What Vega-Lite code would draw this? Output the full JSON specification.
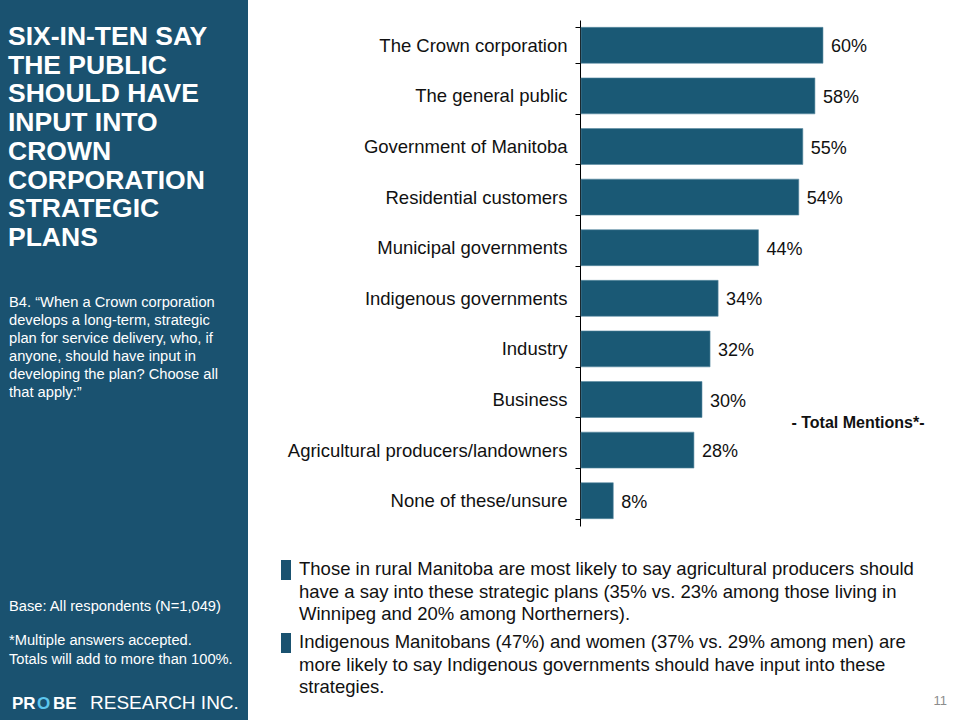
{
  "$schema": "https://vega.github.io/schema/vega-lite/v6.json",
  "width": 960,
  "height": 720,
  "autosize": {"type": "none"},
  "padding": 0,
  "background": "#ffffff",
  "config": {"view": {"stroke": null}, "font": "Liberation Sans"},
  "datasets": {
    "bars": [
      {"label": "The Crown corporation", "share": 0.60},
      {"label": "The general public", "share": 0.58},
      {"label": "Government of Manitoba", "share": 0.55},
      {"label": "Residential customers", "share": 0.54},
      {"label": "Municipal governments", "share": 0.44},
      {"label": "Indigenous governments", "share": 0.34},
      {"label": "Industry", "share": 0.32},
      {"label": "Business", "share": 0.30},
      {"label": "Agricultural producers/landowners", "share": 0.28},
      {"label": "None of these/unsure", "share": 0.08}
    ],
    "one": [{"item": "slide"}]
  },
  "layer": [
    {
      "data": {"name": "one"},
      "mark": {"type": "rect", "color": "#1a5270", "x": 0, "x2": 248, "y": 0, "y2": 720},
      "encoding": {}
    },
    {
      "data": {"name": "one"},
      "mark": {"type": "text", "x": 8, "y": 45, "align": "left", "baseline": "alphabetic", "font": "Liberation Sans", "fontWeight": "bold", "fontSize": 26.5, "lineHeight": 28.7, "color": "#ffffff",
        "text": ["SIX-IN-TEN SAY", "THE PUBLIC", "SHOULD HAVE", "INPUT INTO", "CROWN", "CORPORATION", "STRATEGIC", "PLANS"]},
      "encoding": {}
    },
    {
      "data": {"name": "one"},
      "mark": {"type": "text", "x": 9, "y": 307, "align": "left", "baseline": "alphabetic", "fontSize": 14.7, "lineHeight": 18, "color": "#ffffff",
        "text": ["B4. “When a Crown corporation", "develops a long-term, strategic", "plan for service delivery, who, if", "anyone, should have input in", "developing the plan?  Choose all", "that apply:”"]},
      "encoding": {}
    },
    {
      "data": {"name": "one"},
      "mark": {"type": "text", "x": 9, "y": 611, "align": "left", "baseline": "alphabetic", "fontSize": 14.7, "color": "#ffffff", "text": "Base: All respondents (N=1,049)"},
      "encoding": {}
    },
    {
      "data": {"name": "one"},
      "mark": {"type": "text", "x": 9, "y": 645, "align": "left", "baseline": "alphabetic", "fontSize": 14.7, "lineHeight": 19, "color": "#ffffff",
        "text": ["*Multiple answers accepted.", "Totals will add to more than 100%."]},
      "encoding": {}
    },
    {
      "data": {"name": "one"},
      "mark": {"type": "text", "x": 12, "y": 709, "align": "left", "baseline": "alphabetic", "fontSize": 17, "fontWeight": "bold", "color": "#ffffff", "text": "PR"},
      "encoding": {}
    },
    {
      "data": {"name": "one"},
      "mark": {"type": "text", "x": 37, "y": 709, "align": "left", "baseline": "alphabetic", "fontSize": 17, "fontWeight": "bold", "color": "#5cc6ee", "text": "O"},
      "encoding": {}
    },
    {
      "data": {"name": "one"},
      "mark": {"type": "text", "x": 53, "y": 709, "align": "left", "baseline": "alphabetic", "fontSize": 17, "fontWeight": "bold", "color": "#ffffff", "text": "BE"},
      "encoding": {}
    },
    {
      "data": {"name": "one"},
      "mark": {"type": "text", "x": 90, "y": 709, "align": "left", "baseline": "alphabetic", "fontSize": 19, "color": "#ffffff", "text": "RESEARCH INC."},
      "encoding": {}
    },
    {
      "data": {"name": "bars"},
      "mark": {"type": "bar", "color": "#1a5975", "stroke": "#5b8ca3", "strokeWidth": 0.6},
      "encoding": {
        "y": {
          "field": "label", "type": "nominal", "sort": null,
          "scale": {"range": [20, 526], "paddingInner": 0.29, "paddingOuter": 0.145},
          "axis": {"orient": "left", "offset": -580, "title": null, "domainColor": "#000000", "domainWidth": 1, "tickColor": "#000000", "tickSize": 5, "tickBand": "extent", "labelFontSize": 18.5, "labelColor": "#111111", "labelPadding": 8, "labelLimit": 0, "labelFont": "Liberation Sans"}
        },
        "x": {"field": "share", "type": "quantitative", "scale": {"domain": [0, 1], "range": [581, 984.3]}, "axis": null}
      }
    },
    {
      "data": {"name": "bars"},
      "mark": {"type": "text", "align": "left", "baseline": "middle", "dx": 8, "dy": 2, "fontSize": 18, "color": "#111111"},
      "encoding": {
        "y": {"field": "label", "type": "nominal", "sort": null},
        "x": {"field": "share", "type": "quantitative"},
        "text": {"field": "share", "type": "quantitative", "format": ".0%"}
      }
    },
    {
      "data": {"name": "one"},
      "mark": {"type": "text", "x": 858, "y": 428, "align": "center", "baseline": "alphabetic", "fontSize": 16, "fontWeight": "bold", "color": "#111111", "text": "- Total Mentions*-"},
      "encoding": {}
    },
    {
      "data": {"name": "one"},
      "mark": {"type": "rect", "color": "#1a5270", "x": 281, "x2": 291, "y": 560, "y2": 580},
      "encoding": {}
    },
    {
      "data": {"name": "one"},
      "mark": {"type": "rect", "color": "#1a5270", "x": 281, "x2": 291, "y": 633, "y2": 653},
      "encoding": {}
    },
    {
      "data": {"name": "one"},
      "mark": {"type": "text", "x": 299, "y": 575, "align": "left", "baseline": "alphabetic", "fontSize": 18.5, "lineHeight": 22.5, "color": "#111111",
        "text": ["Those in rural Manitoba are most likely to say agricultural producers should", "have a say into these strategic plans (35% vs. 23% among those living in", "Winnipeg and 20% among Northerners)."]},
      "encoding": {}
    },
    {
      "data": {"name": "one"},
      "mark": {"type": "text", "x": 299, "y": 648, "align": "left", "baseline": "alphabetic", "fontSize": 18.5, "lineHeight": 22.5, "color": "#111111",
        "text": ["Indigenous Manitobans (47%) and women (37% vs. 29% among men) are", "more likely to say Indigenous governments should have input into these", "strategies."]},
      "encoding": {}
    },
    {
      "data": {"name": "one"},
      "mark": {"type": "text", "x": 947, "y": 705, "align": "right", "baseline": "alphabetic", "fontSize": 13, "color": "#8c8c8c", "text": "11"},
      "encoding": {}
    }
  ]
}
